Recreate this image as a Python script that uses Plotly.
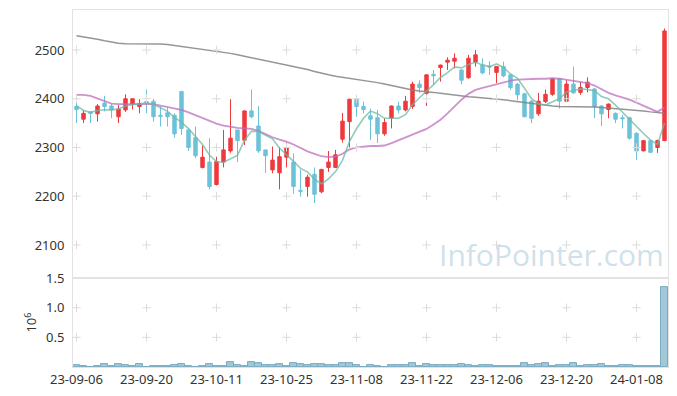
import plotly.graph_objects as go
from plotly.subplots import make_subplots

dates = [
    "23-09-06", "23-09-07", "23-09-08", "23-09-11", "23-09-12", "23-09-13", "23-09-14", "23-09-15",
    "23-09-18", "23-09-19", "23-09-20", "23-09-21", "23-09-22", "23-09-25", "23-09-26", "23-09-27",
    "23-10-04", "23-10-05", "23-10-06", "23-10-10", "23-10-11", "23-10-12", "23-10-13", "23-10-16",
    "23-10-17", "23-10-18", "23-10-19", "23-10-20", "23-10-23", "23-10-24", "23-10-25", "23-10-26",
    "23-10-27", "23-10-30", "23-10-31", "23-11-01", "23-11-02", "23-11-03", "23-11-06", "23-11-07",
    "23-11-08", "23-11-09", "23-11-10", "23-11-13", "23-11-14", "23-11-15", "23-11-16", "23-11-17",
    "23-11-20", "23-11-21", "23-11-22", "23-11-23", "23-11-24", "23-11-27", "23-11-28", "23-11-29",
    "23-11-30", "23-12-01", "23-12-04", "23-12-05", "23-12-06", "23-12-07", "23-12-08", "23-12-11",
    "23-12-12", "23-12-13", "23-12-14", "23-12-15", "23-12-18", "23-12-19", "23-12-20", "23-12-21",
    "23-12-22", "23-12-26", "23-12-27", "23-12-28", "24-01-02", "24-01-03", "24-01-04", "24-01-05",
    "24-01-08", "24-01-09", "24-01-10", "24-01-11", "24-01-12",
]

opens = [2384, 2358, 2373, 2369, 2391, 2385, 2363, 2377, 2388, 2384,
         2394, 2395, 2366, 2371, 2366, 2415, 2336, 2320, 2259, 2270,
         2224, 2270, 2293, 2336, 2315, 2375, 2344, 2295, 2254, 2248,
         2280, 2270, 2212, 2220, 2245, 2209, 2259, 2259, 2317, 2353,
         2399, 2384, 2365, 2361, 2328, 2360, 2385, 2377, 2384, 2430,
         2411, 2450, 2464, 2475, 2477, 2459, 2443, 2475, 2469, 2467,
         2454, 2466, 2449, 2430, 2410, 2395, 2369, 2394, 2409, 2441,
         2395, 2430, 2413, 2423, 2420, 2385, 2378, 2370, 2361, 2361,
         2329, 2293, 2314, 2300, 2314]
highs = [2394, 2377, 2373, 2389, 2406, 2389, 2387, 2409, 2400, 2399,
         2419, 2400, 2384, 2382, 2370, 2415, 2339, 2343, 2304, 2319,
         2281, 2336, 2399, 2336, 2376, 2419, 2385, 2295, 2302, 2300,
         2310, 2288, 2255, 2244, 2259, 2256, 2293, 2295, 2371, 2400,
         2406, 2394, 2380, 2377, 2360, 2386, 2394, 2406, 2435, 2438,
         2450, 2459, 2470, 2485, 2493, 2460, 2490, 2500, 2483, 2477,
         2467, 2476, 2451, 2432, 2412, 2397, 2412, 2419, 2442, 2442,
         2438, 2466, 2435, 2444, 2422, 2387, 2390, 2372, 2367, 2363,
         2331, 2315, 2316, 2316, 2544]
lows = [2350, 2350, 2350, 2353, 2374, 2360, 2350, 2373, 2378, 2370,
        2370, 2353, 2343, 2343, 2320, 2326, 2293, 2278, 2257, 2214,
        2222, 2259, 2289, 2270, 2305, 2360, 2289, 2248, 2247, 2214,
        2259, 2205, 2199, 2199, 2186, 2206, 2250, 2258, 2310, 2300,
        2363, 2370, 2315, 2309, 2324, 2339, 2370, 2374, 2379, 2412,
        2385, 2428, 2435, 2459, 2462, 2430, 2441, 2466, 2450, 2449,
        2432, 2444, 2418, 2397, 2362, 2350, 2365, 2391, 2406, 2380,
        2394, 2410, 2408, 2413, 2360, 2344, 2360, 2350, 2339, 2316,
        2274, 2292, 2289, 2289, 2313]
closes = [2378, 2370, 2370, 2385, 2384, 2377, 2379, 2400, 2400, 2390,
          2391, 2363, 2364, 2363, 2328, 2339, 2300, 2283, 2280, 2220,
          2271, 2295, 2319, 2314, 2375, 2363, 2293, 2283, 2274, 2281,
          2300, 2220, 2210, 2239, 2204, 2255, 2270, 2285, 2354, 2399,
          2384, 2378, 2358, 2328, 2351, 2385, 2377, 2395, 2430, 2423,
          2449, 2447, 2469, 2479, 2483, 2438, 2483, 2490, 2453, 2465,
          2466, 2447, 2423, 2408, 2363, 2360, 2395, 2409, 2441, 2395,
          2430, 2412, 2423, 2434, 2384, 2369, 2389, 2358, 2359, 2319,
          2293, 2314, 2290, 2314, 2539]

ma5 = [2386, 2376, 2372, 2376, 2377.4, 2377.2, 2379, 2385, 2388, 2389.2,
       2392, 2388.8, 2381.6, 2374.2, 2361.8, 2351.4, 2338.8, 2322.6, 2306, 2284.4,
       2270.8, 2269.8, 2277, 2283.8, 2314.8, 2333.2, 2332.8, 2325.6, 2317.6, 2298.8,
       2286.2, 2271.6, 2257, 2250, 2234.6, 2225.6, 2235.6, 2250.6, 2273.6, 2312.6,
       2338.4, 2360, 2374.6, 2369.4, 2359.8, 2360, 2359.8, 2367.2, 2387.6, 2402,
       2414.8, 2428.8, 2443.6, 2453.4, 2465.4, 2463.2, 2470.4, 2474.6, 2469.4, 2465.8,
       2471.4, 2464.2, 2450.8, 2441.8, 2421.4, 2400.2, 2389.8, 2387, 2393.6, 2400,
       2414, 2417.4, 2420.2, 2418.8, 2416.6, 2404.4, 2399.8, 2386.8, 2371.8, 2358.8,
       2343.6, 2328.6, 2315, 2306, 2350]
ma20 = [2408, 2408, 2406, 2401, 2395, 2390, 2389, 2389, 2389, 2390,
        2390, 2389, 2386, 2383, 2380, 2377, 2372, 2366, 2360, 2354,
        2349, 2345, 2342, 2340, 2339, 2338, 2334, 2327, 2321, 2316,
        2312, 2306, 2299, 2292, 2287, 2282, 2280, 2281, 2287, 2296,
        2300, 2302, 2303, 2303, 2304, 2309, 2315, 2320, 2326, 2332,
        2338, 2347, 2357, 2370, 2385, 2398, 2410, 2418, 2422, 2426,
        2430, 2433, 2437, 2439, 2440, 2441, 2441, 2441, 2442, 2441,
        2439, 2437, 2435, 2432, 2427, 2419, 2412, 2407, 2403, 2398,
        2392, 2386, 2379, 2373, 2382]
ma120 = [2529, 2527, 2525, 2522, 2519, 2516, 2514, 2513, 2513, 2512,
         2512, 2512, 2512, 2511, 2509, 2508, 2506, 2504, 2502, 2499,
         2497, 2495, 2493, 2490, 2487, 2485, 2482, 2479, 2476, 2473,
         2470, 2467, 2464, 2460, 2456, 2452, 2449, 2446, 2444, 2442,
         2440, 2438, 2436, 2433, 2430, 2427, 2423, 2420, 2418, 2416,
         2415, 2413, 2411, 2409, 2407, 2406, 2404, 2403, 2402, 2401,
         2400, 2398, 2396, 2394, 2392, 2390, 2388, 2386, 2385, 2384,
         2384, 2384, 2384, 2384, 2383, 2382, 2381, 2380, 2379, 2378,
         2377, 2375, 2373, 2371, 2370]

# volume in units of 10^6
volumes = [0.03, 0.01, 0.005, 0.01, 0.045, 0.01, 0.045, 0.03, 0.01, 0.045,
           0.0, 0.01, 0.01, 0.01, 0.03, 0.045, 0.01, 0.003, 0.01, 0.045,
           0.01, 0.01, 0.08, 0.03, 0.01, 0.08, 0.06, 0.03, 0.03, 0.045,
           0.01, 0.06, 0.045, 0.03, 0.045, 0.045, 0.03, 0.03, 0.07, 0.06,
           0.03, 0.0, 0.03, 0.01, 0.0, 0.03, 0.03, 0.03, 0.07, 0.01,
           0.045, 0.03, 0.03, 0.03, 0.03, 0.045, 0.03, 0.01, 0.03, 0.03,
           0.01, 0.01, 0.01, 0.01, 0.07, 0.03, 0.045, 0.07, 0.01, 0.03,
           0.03, 0.06, 0.01, 0.03, 0.03, 0.045, 0.01, 0.01, 0.03, 0.03,
           0.01, 0.01, 0.01, 0.01, 1.344]

price_ticks = [2100, 2200, 2300, 2400, 2500]
vol_ticks = [0.5, 1.0, 1.5]
vol_tick_text = ["0.5", "1.0", "1.5"]
x_ticks = dates[::10]

UP = "#ee3a3d"
DN = "#6cc3d9"
GRID = "#dcdcdc"
AXIS = "#e2e2e2"

fig = make_subplots(rows=2, cols=1, shared_xaxes=True, vertical_spacing=0,
                    row_heights=[0.751, 0.249])

fig.add_trace(go.Candlestick(
    x=dates, open=opens, high=highs, low=lows, close=closes,
    increasing=dict(line=dict(color=UP, width=1), fillcolor=UP),
    decreasing=dict(line=dict(color=DN, width=1), fillcolor=DN),
    whiskerwidth=0, showlegend=False, hoverinfo="skip"), row=1, col=1)

fig.add_trace(go.Scatter(x=dates, y=ma120, mode="lines", showlegend=False,
                         line=dict(color="rgba(130,130,130,0.85)", width=1.5)), row=1, col=1)
fig.add_trace(go.Scatter(x=dates, y=ma20, mode="lines", showlegend=False,
                         line=dict(color="rgba(190,110,190,0.75)", width=1.8)), row=1, col=1)
fig.add_trace(go.Scatter(x=dates, y=ma5, mode="lines", showlegend=False,
                         line=dict(color="rgba(110,185,165,0.75)", width=1.6)), row=1, col=1)

fig.add_trace(go.Bar(x=dates, y=volumes, showlegend=False,
                     marker=dict(color="#a2c7d7", line=dict(color="#7aaabf", width=1))),
              row=2, col=1)

# grid "+" marks at tick intersections
gx, gy = [], []
for xv in x_ticks:
    for yv in price_ticks:
        gx.append(xv)
        gy.append(yv)
fig.add_trace(go.Scatter(x=gx, y=gy, mode="markers", hoverinfo="skip", showlegend=False,
                         marker=dict(symbol="cross-thin", size=6, line=dict(color=GRID, width=1))),
              row=1, col=1)
vx, vy = [], []
for xv in x_ticks:
    for yv in vol_ticks[:-1]:
        vx.append(xv)
        vy.append(yv)
fig.add_trace(go.Scatter(x=vx, y=vy, mode="markers", hoverinfo="skip", showlegend=False,
                         marker=dict(symbol="cross-thin", size=6, line=dict(color=GRID, width=1))),
              row=2, col=1)

common_x = dict(type="category", categoryorder="array", categoryarray=dates,
                range=[-0.5, len(dates) - 0.5], showgrid=False, automargin=False,
                showline=True, linecolor=AXIS, mirror=True, zeroline=False,
                rangeslider=dict(visible=False), ticks="", tickangle=0)
fig.update_xaxes(**common_x)
fig.update_xaxes(showticklabels=False, row=1, col=1)
fig.update_xaxes(showticklabels=True, tickmode="array", tickvals=x_ticks, ticktext=x_ticks,
                 row=2, col=1)

fig.update_yaxes(range=[2032, 2582], tickvals=price_ticks, showgrid=False, zeroline=False,
                 showline=True, linecolor=AXIS, mirror=True, ticks="", ticklabelstandoff=5,
                 automargin=False, row=1, col=1)
fig.update_yaxes(range=[0, 1.5], tickvals=vol_ticks, ticktext=vol_tick_text, showgrid=False,
                 zeroline=False, showline=True, linecolor=AXIS, mirror=True, ticks="",
                 ticklabelstandoff=5, automargin=False,
                 title=dict(text="10<sup>6</sup>", standoff=6, font=dict(size=13, color="#333")),
                 row=2, col=1)

fig.add_annotation(text="InfoPointer.com", xref="paper", yref="paper", x=0.805, y=0.314,
                   xanchor="center", yanchor="middle", showarrow=False,
                   font=dict(family="Open Sans", size=30, color="rgba(175,205,220,0.62)"))

fig.update_layout(
    width=677, height=396,
    margin=dict(l=73, r=9, t=10, b=29),
    paper_bgcolor="white", plot_bgcolor="white",
    font=dict(family="Noto Sans", size=13, color="#333"),
    bargap=0, showlegend=False,
)

fig.write_html("out.html", config={"displayModeBar": False},
               post_script="document.body.style.margin='0';document.body.style.overflow='hidden';")
